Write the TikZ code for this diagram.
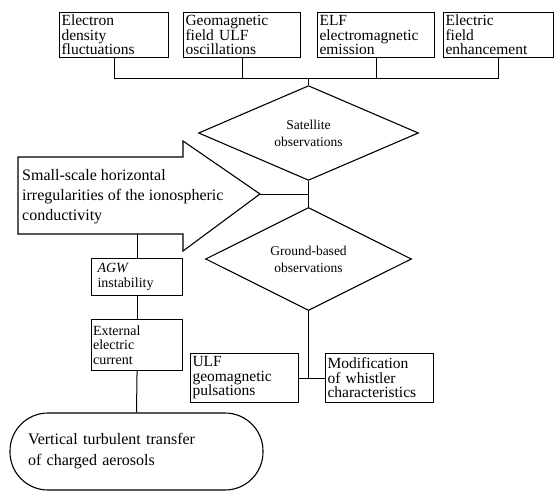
\documentclass[tikz,border=0pt]{standalone}
\usepackage{fontspec}
\setmainfont{Liberation Serif}
\usetikzlibrary{shapes.geometric, positioning, calc}
\tikzset{
	effect/.style   ={rectangle, draw=black, line width=1.1pt, anchor=north west, align=left, inner xsep=2pt, inner ysep=1pt, minimum height=45pt, font=\fontsize{15.5}{14.5}\selectfont},
	decision/.style ={diamond, draw=black, line width=1.1pt, inner sep=0pt, align=center, font=\fontsize{13.5}{17}\selectfont},
	blk/.style      ={rectangle, draw=black, line width=1.1pt, anchor=north west, align=left, inner ysep=1pt, font=\fontsize{14}{14.5}\selectfont},
	startstop/.style={rectangle, rounded corners=38pt, draw=black, line width=1.1pt, align=left, minimum width=253pt, minimum height=77pt, inner xsep=18pt, text width=217pt, font=\fontsize{16}{21}\selectfont},
	link/.style     ={line width=1pt},
}

\begin{document}
\begin{tikzpicture}[x=1pt, y=-1pt]
	\useasboundingbox (0,0) rectangle (556,492);
	% observed effects
	\node[effect, text width=105pt] (e1) at (59,12) {Electron\\density\\fluctuations};
	\node[effect, text width=113pt] (e2) at (183,12) {Geomagnetic\\field ULF\\oscillations};
	\node[effect, text width=113pt] (e3) at (317,12) {ELF\\electromagnetic\\emission};
	\node[effect, text width=106pt] (e4) at (443,12) {Electric\\field\\enhancement};
	% observations
	\node[decision, minimum width=220pt, minimum height=70pt] (sat) at (308.5,133) {Satellite\\observations};
	\node[decision, minimum width=206pt, minimum height=74pt] (gnd) at (308.5,259) {Ground-based\\observations};
	% irregularities (arrow outline)
	\draw[line width=1.1pt] (18,157) coordinate (bodyNW) -- (183,157) -- (183,141) -- (260,194) coordinate (tip)
		-- (183,251) -- (183,234) -- (18,234) coordinate (bodySW) -- cycle;
	\node[anchor=west, align=left, inner sep=0pt, font=\fontsize{16}{20}\selectfont] (irr) at (22,197)
		{Small-scale horizontal\\irregularities of the ionospheric\\conductivity};
	% chain on the left
	\node[blk, inner xsep=6pt, text width=79pt, minimum height=37pt] (agw) at (91,258) {{\itshape AGW}\\instability};
	\node[blk, inner xsep=1.5pt, text width=88pt, minimum height=51pt] (ext) at (91,319) {External\\electric\\current};
	\node[startstop] (aer) at (136.5,451.5) {Vertical turbulent transfer\\of charged aerosols};
	% ground effects
	\node[effect, text width=104pt, minimum height=49pt] (ulf) at (190,353) {ULF\\geomagnetic\\pulsations};
	\node[effect, text width=104pt, minimum height=49pt] (mod) at (325,353) {Modification\\of whistler\\characteristics};
	% connectors
	\coordinate (bus) at (308.5,79);
	\draw[link] (e1.south) |- (e4.south |- bus) -- (e4.south);
	\draw[link] (e2.south) -- (e2.south |- bus);
	\draw[link] (e3.south) -- (e3.south |- bus);
	\draw[link] (bus) -- (sat.north);
	\draw[link] (sat.south) -- (gnd.north);
	\draw[link] (tip) -- (tip -| sat.south);
	\draw[link] (gnd.south) -- (gnd.south |- ulf.east);
	\draw[link] (ulf.east) -- (mod.west);
	\draw[link] (agw.north |- bodySW) -- (agw.north);
	\draw[link] (agw.south) -- (ext.north);
	\draw[link] (ext.south) -- (aer.north);
\end{tikzpicture}
\end{document}
